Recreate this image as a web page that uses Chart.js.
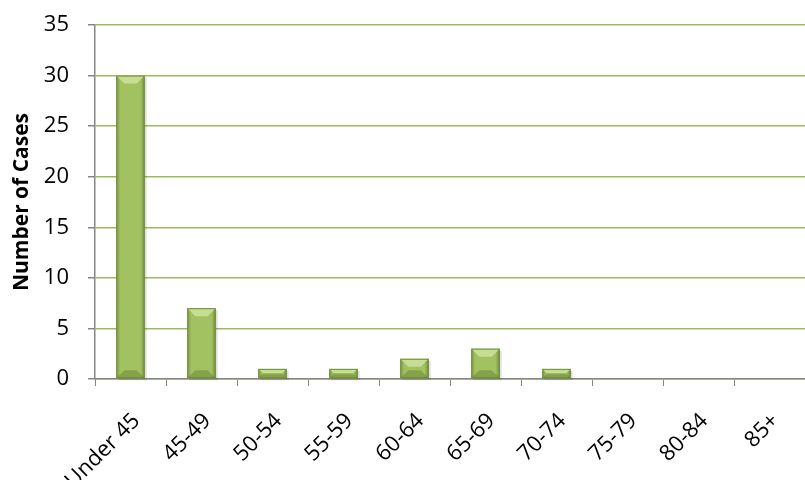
<!DOCTYPE html>
<html>
<head>
<meta charset="utf-8">
<script src="https://cdn.jsdelivr.net/npm/chart.js@4/dist/chart.umd.min.js"></script>
<style>
    html, body { margin: 0; padding: 0; background: #fff; }
    #wrap { width: 805px; height: 480px; position: relative; }
</style>
</head>
<body>
<div id="wrap"><canvas id="chart"></canvas></div>
<script>
// data
const ageGroups = ['Under 45', '45-49', '50-54', '55-59', '60-64', '65-69', '70-74', '75-79', '80-84', '85+'];
const cases = [30, 7, 1, 1, 2, 3, 1, 0, 0, 0];
const yTicks = [0, 5, 10, 15, 20, 25, 30, 35];

const fontFamily = '"Open Sans", "Liberation Sans", sans-serif';

// bevel look of the bars (drawn on top of the library's bars)
const bevelPlugin = {
    id: 'bevel',
    beforeDatasetsDraw(chart) {
        // soft shadow under bars
        const ctx = chart.ctx;
        chart.getDatasetMeta(0).data.forEach(bar => {
            const p = bar.getProps(['x', 'y', 'base', 'width']);
            const h = p.base - p.y;
            if (h <= 0) return;
            ctx.save();
            ctx.fillStyle = 'rgba(0,0,0,0.12)';
            ctx.fillRect(p.x - p.width / 2 + 2, p.y + 2, p.width, h);
            ctx.restore();
        });
    },
    afterDatasetsDraw(chart) {
        const ctx = chart.ctx;
        chart.getDatasetMeta(0).data.forEach(bar => {
            const p = bar.getProps(['x', 'y', 'base', 'width']);
            const h = p.base - p.y;
            if (h <= 0) return;
            const l = p.x - p.width / 2, r = p.x + p.width / 2;
            const t = p.y, b = p.base;
            const bv = Math.min(8, h / 2);
            ctx.save();
            // side shading
            const g = ctx.createLinearGradient(l, 0, r, 0);
            g.addColorStop(0, 'rgba(60,80,20,0.35)');
            g.addColorStop(0.15, 'rgba(60,80,20,0)');
            g.addColorStop(0.85, 'rgba(60,80,20,0)');
            g.addColorStop(1, 'rgba(60,80,20,0.45)');
            ctx.fillStyle = g;
            ctx.fillRect(l, t, r - l, h);
            // top facet
            ctx.fillStyle = '#c6dd92';
            ctx.beginPath();
            ctx.moveTo(l, t); ctx.lineTo(r, t);
            ctx.lineTo(r - bv, t + bv); ctx.lineTo(l + bv, t + bv);
            ctx.closePath(); ctx.fill();
            // bottom facet
            ctx.fillStyle = 'rgba(90,115,40,0.4)';
            ctx.beginPath();
            ctx.moveTo(l, b); ctx.lineTo(r, b);
            ctx.lineTo(r - bv, b - bv); ctx.lineTo(l + bv, b - bv);
            ctx.closePath(); ctx.fill();
            // outline
            ctx.strokeStyle = '#6e8c37';
            ctx.lineWidth = 1;
            ctx.strokeRect(l + 0.5, t + 0.5, r - l - 1, h - 1);
            ctx.restore();
        });
    }
};

new Chart(document.getElementById('chart'), {
    type: 'bar',
    data: {
        labels: ageGroups,
        datasets: [{
            data: cases,
            backgroundColor: '#a2c262',
            borderWidth: 0,
            barPercentage: 0.8,
            categoryPercentage: 0.5
        }]
    },
    options: {
        responsive: true,
        maintainAspectRatio: false,
        animation: false,
        layout: { padding: { top: 25, right: 0, left: 0, bottom: 0 } },
        plugins: {
            legend: { display: false },
            tooltip: { enabled: false }
        },
        scales: {
            x: {
                offset: true,
                grid: { display: true, drawOnChartArea: false, drawTicks: true, tickLength: 7, color: '#868686', offset: true },
                border: { color: '#868686', width: 1.5 },
                ticks: {
                    color: '#000',
                    font: { family: fontFamily, size: 22 },
                    minRotation: 45,
                    maxRotation: 45,
                    labelOffset: 6,
                    padding: 22
                },
                afterFit: (scale) => {
                    scale.height = 101;
                    scale.paddingTop = 0;
                    scale.paddingBottom = 0;
                    scale.paddingLeft = 0;
                    scale.paddingRight = 0;
                }
            },
            y: {
                min: 0,
                max: 35,
                afterBuildTicks: (scale) => { scale.ticks = yTicks.map(v => ({ value: v })); },
                grid: { color: '#9bbb59', lineWidth: 1.5, tickLength: 7, tickColor: '#868686' },
                border: { color: '#868686', width: 1.5 },
                ticks: {
                    color: '#000',
                    font: { family: fontFamily, size: 22 },
                    padding: 19
                },
                title: {
                    display: true,
                    text: 'Number of Cases',
                    color: '#000',
                    font: { family: fontFamily, size: 21, weight: 'bold' },
                    padding: { top: 9, bottom: 0 }
                },
                afterFit: (scale) => {
                    scale.width = 95;
                    scale.paddingTop = 0;
                    scale.paddingBottom = 0;
                }
            }
        }
    },
    plugins: [bevelPlugin]
});
</script>
</body>
</html>
